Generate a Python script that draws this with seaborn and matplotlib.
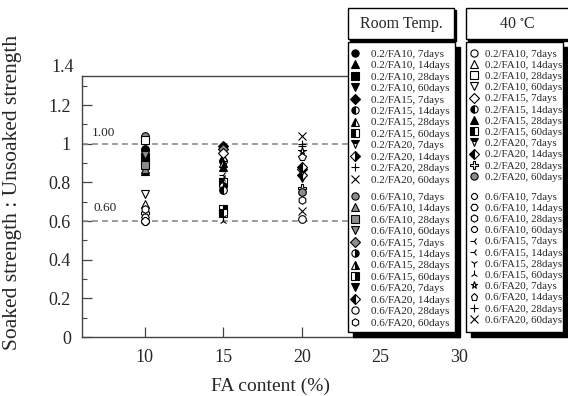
import matplotlib
matplotlib.use("Agg")
import matplotlib.pyplot as plt
import seaborn as sns
import pandas as pd
from matplotlib.lines import Line2D
from matplotlib.patches import Rectangle

# ---- data (strength ratio) ----
fa_levels = [10, 15, 20]
ages = ["7days", "14days", "28days", "60days"]
# order: FA10 (7,14,28,60), FA15 (...), FA20 (...)
room_w02 = [0.97, 0.86, 0.93, 0.95, 0.99, 0.91, 0.93, 0.80, 0.85, 0.87, 0.99, 1.04]
room_w06 = [1.04, 0.87, 0.89, 0.94, 0.97, 0.78, 0.90, 0.66, 0.82, 0.84, 0.61, 0.71]
hot_w02 = [0.60, 0.69, 1.02, 0.74, 0.95, 0.76, 0.88, 0.64, 0.86, 0.88, 0.77, 0.75]
hot_w06 = [0.64, 0.62, 0.66, 0.60, 0.84, 0.82, 0.62, 0.60, 0.96, 0.93, 1.00, 0.65]
ref_lines = [1.00, 0.60]

rows = []
for cond, w, vals in [("Room Temp.", "0.2", room_w02), ("Room Temp.", "0.6", room_w06),
                      ("40 °C", "0.2", hot_w02), ("40 °C", "0.6", hot_w06)]:
    for i, v in enumerate(vals):
        fa = fa_levels[i // 4]
        rows.append({"cond": cond, "fa": fa, "ratio": v,
                     "label": f"{w}/FA{fa}, {ages[i % 4]}"})
df = pd.DataFrame(rows)

# ---- marker styles (marker, fill) per series, same order as above ----
G = "#8c8c8c"
room_styles = [
    ("o", "full"), ("^", "full"), ("s", "full"), ("v", "full"),
    ("D", "full"), ("o", "left"), ("^", "left"), ("s", "left"),
    ("v", "top"), ("D", "right"), ("+", "none"), ("x", "none"),
    ("o", "gray"), ("^", "gray"), ("s", "gray"), ("v", "gray"),
    ("D", "gray"), ("o", "right"), ("^", "right"), ("s", "right"),
    ("v", "full"), ("D", "left"), ("o", "none"), ("h", "none"),
]
hot_styles = [
    ("o", "none"), ("^", "none"), ("s", "none"), ("v", "none"),
    ("D", "none"), ("o", "left"), ("^", "full"), ("s", "left"),
    ("v", "top"), ("D", "left"), ("P", "none"), ("o", "gray"),
    ("8", "none"), ("H", "none"), ("h", "none"), ("8", "none"),
    ("3", "none"), ("3", "none"), ("1", "none"), ("2", "none"),
    ("*", "none"), ("p", "none"), ("+", "none"), ("x", "none"),
]


def mstyle(marker, fill):
    kw = dict(marker=marker, linestyle="none", markersize=5.5,
              markeredgecolor="black", markeredgewidth=0.8, color="black")
    if fill == "full":
        kw.update(markerfacecolor="black")
    elif fill == "none":
        kw.update(markerfacecolor="white")
    elif fill == "gray":
        kw.update(markerfacecolor=G)
    else:
        kw.update(fillstyle=fill, markerfacecolor="black", markerfacecoloralt="white")
    return kw


sns.set_style("ticks")
plt.rcParams["font.family"] = ["Liberation Serif", "DejaVu Serif"]
plt.rcParams["mathtext.fontset"] = "stix"

W, H = 568, 396
fig = plt.figure(figsize=(W / 100, H / 100), dpi=100)
ax = fig.add_axes([82 / W, 1 - 337 / H, (459 - 82) / W, (337 - 76) / H])


def fx(x):
    return x / W


def fy(y):
    return 1 - y / H


for y in ref_lines:
    ax.axhline(y, color="#8a8a8a", lw=1.2, ls=(0, (3.5, 2.5)), zorder=1)
ax.text(6.6, 1.054, "1.00", fontsize=9.5, va="center", ha="left")
ax.text(6.75, 0.668, "0.60", fontsize=9.5, va="center", ha="left")

handles = {"Room Temp.": [], "40 °C": []}
for cond, styles in [("Room Temp.", room_styles), ("40 °C", hot_styles)]:
    sub = df[df["cond"] == cond].reset_index(drop=True)
    for i, r in sub.iterrows():
        kw = mstyle(*styles[i])
        ax.plot([r["fa"]], [r["ratio"]], zorder=3, **kw)
        handles[cond].append(Line2D([], [], **kw))

ax.set_xlim(6, 30)
ax.set_ylim(0, 1.35)
ax.set_xticks([10, 15, 20, 25, 30])
ax.set_yticks([0, 0.2, 0.4, 0.6, 0.8, 1.0, 1.2])
ax.set_yticklabels(["0", "0.2", "0.4", "0.6", "0.8", "1", "1.2"])
ax.set_yticks([i / 10 for i in range(0, 14)], minor=True)
ax.tick_params(axis="both", which="major", direction="in", labelsize=13,
               length=7, width=0.9, color="#444")
ax.tick_params(axis="y", which="minor", direction="in", length=3.5, width=0.8, color="#444")
ax.tick_params(axis="x", pad=9)
ax.tick_params(axis="y", pad=8)
for s in ax.spines.values():
    s.set_linewidth(1.0)
    s.set_color("#444")
ax.set_xlabel("FA content (%)", fontsize=14, labelpad=8)
ax.set_ylabel("Soaked strength : Unsoaked strength", fontsize=15.5)
ax.yaxis.set_label_coords(-0.159, 0.552)
fig.text(fx(63), fy(67), "1.4", fontsize=13, ha="center", va="center")

# ---- legend boxes with shadows ----
def box(x0, y0, x1, y1, shadow):
    fig.patches.append(Rectangle((fx(x0 + shadow), fy(y1 + shadow)), fx(x1 - x0), (y1 - y0) / H,
                                 transform=fig.transFigure, facecolor="black",
                                 edgecolor="black", zorder=2))
    fig.patches.append(Rectangle((fx(x0), fy(y1)), fx(x1 - x0), (y1 - y0) / H,
                                 transform=fig.transFigure, facecolor="white",
                                 edgecolor="black", lw=1.0, zorder=3))


box(348, 8, 454, 39, 2)
box(348, 42, 455, 332, 5)
box(466, 8, 572, 39, 2)
box(466, 42, 563, 332, 5)
fig.text(fx(401), fy(24), "Room Temp.", fontsize=11.5, ha="center", va="center", zorder=6)
fig.text(fx(517), fy(24), "40 $^{\\circ}$C", fontsize=11.5, ha="center", va="center", zorder=6)

for cond, x0, pad, fs in [("Room Temp.", 349, 1.0, 8), ("40 °C", 469, 0.5, 7.8)]:
    labs = df[df["cond"] == cond]["label"].tolist()
    for part, y0 in [(0, 49), (1, 192)]:
        leg = fig.legend(handles[cond][part * 12:(part + 1) * 12], labs[part * 12:(part + 1) * 12],
                         loc="upper left", bbox_to_anchor=(fx(x0), fy(y0)),
                         bbox_transform=fig.transFigure, frameon=False,
                         fontsize=fs, labelspacing=0.15, handlelength=1.0,
                         handletextpad=pad, borderpad=0, borderaxespad=0,
                         markerscale=0.95)
        leg.set_zorder(6)

fig.savefig("out.png", dpi=100)
